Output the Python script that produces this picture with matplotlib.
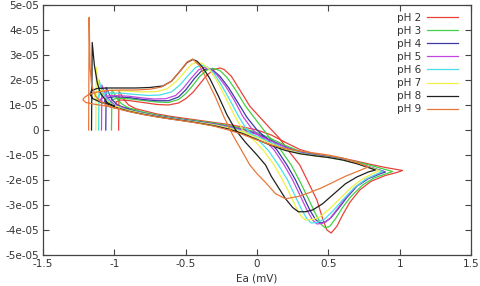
"""Cyclic voltammograms at several pH values (gnuplot-like look)."""

import matplotlib
matplotlib.use("Agg")
import matplotlib.pyplot as plt
import numpy as np

# (potential, current in 1e-5 units), forward + reverse sweep
ph2 = [(-0.97, 0.0), (-0.967, 1.55), (-0.955, 1.45), (-0.93, 1.2), (-0.9, 1.0), (-0.85, 0.85),
       (-0.8, 0.78), (-0.7, 0.64), (-0.6, 0.54), (-0.5, 0.46), (-0.4, 0.38), (-0.3, 0.3),
       (-0.2, 0.22), (-0.1, 0.12), (0.0, 0.0), (0.1, -0.2), (0.2, -0.5), (0.3, -0.78),
       (0.4, -0.95), (0.5, -1.05), (0.6, -1.13), (0.7, -1.25), (0.8, -1.38), (0.9, -1.5),
       (0.97, -1.57), (1.02, -1.62),
       (0.98, -1.7), (0.9, -1.82), (0.8, -2.05), (0.72, -2.4), (0.65, -2.9), (0.6, -3.4),
       (0.56, -3.85), (0.52, -4.12), (0.49, -4.0), (0.46, -3.55), (0.42, -2.8), (0.36, -2.1),
       (0.3, -1.4), (0.23, -0.9), (0.16, -0.35), (0.07, 0.2), (-0.05, 0.95), (-0.12, 1.6),
       (-0.18, 2.15), (-0.23, 2.42), (-0.26, 2.48), (-0.3, 2.42), (-0.35, 2.2), (-0.4, 1.85),
       (-0.45, 1.5), (-0.5, 1.25), (-0.55, 1.08), (-0.62, 1.0), (-0.7, 1.02), (-0.8, 1.1),
       (-0.9, 1.18), (-0.96, 1.2), (-0.99, 1.12), (-0.98, 1.0), (-0.93, 0.9), (-0.85, 0.8)]

ph3 = [(-1.02, 0.0), (-1.017, 1.6), (-1.005, 1.5), (-0.98, 1.25), (-0.95, 1.05), (-0.9, 0.88),
       (-0.8, 0.72), (-0.7, 0.6), (-0.6, 0.5), (-0.5, 0.42), (-0.4, 0.35), (-0.3, 0.27),
       (-0.2, 0.18), (-0.1, 0.06), (0.0, -0.1), (0.1, -0.35), (0.2, -0.62), (0.3, -0.85),
       (0.4, -0.98), (0.5, -1.06), (0.6, -1.15), (0.7, -1.28), (0.8, -1.42), (0.88, -1.55),
       (0.95, -1.66),
       (0.9, -1.76), (0.82, -1.92), (0.74, -2.2), (0.66, -2.65), (0.6, -3.1), (0.55, -3.55),
       (0.51, -3.85), (0.48, -3.92), (0.45, -3.78), (0.41, -3.35), (0.36, -2.75), (0.3, -2.05),
       (0.24, -1.4), (0.16, -0.75), (0.08, -0.25), (0.0, 0.35), (-0.08, 0.95), (-0.15, 1.6),
       (-0.21, 2.1), (-0.26, 2.38), (-0.31, 2.47), (-0.35, 2.4), (-0.4, 2.15), (-0.45, 1.78),
       (-0.5, 1.45), (-0.55, 1.22), (-0.62, 1.1), (-0.7, 1.12), (-0.8, 1.18), (-0.9, 1.25),
       (-0.98, 1.27), (-1.02, 1.2), (-1.03, 1.08), (-1.0, 0.98), (-0.94, 0.9), (-0.86, 0.8)]

ph4 = [(-1.06, 0.0), (-1.057, 1.7), (-1.045, 1.55), (-1.02, 1.25), (-0.98, 1.0), (-0.9, 0.82),
       (-0.8, 0.68), (-0.7, 0.57), (-0.6, 0.48), (-0.5, 0.4), (-0.4, 0.32), (-0.3, 0.24),
       (-0.2, 0.14), (-0.1, 0.02), (0.0, -0.15), (0.1, -0.42), (0.2, -0.68), (0.3, -0.88),
       (0.4, -1.0), (0.5, -1.08), (0.6, -1.18), (0.7, -1.32), (0.8, -1.5), (0.86, -1.6),
       (0.9, -1.68),
       (0.86, -1.76), (0.78, -1.95), (0.7, -2.25), (0.63, -2.7), (0.57, -3.15), (0.52, -3.5),
       (0.48, -3.68), (0.44, -3.72), (0.41, -3.58), (0.37, -3.2), (0.32, -2.6), (0.27, -2.0),
       (0.21, -1.4), (0.14, -0.8), (0.07, -0.35), (0.0, 0.0), (-0.07, 0.5), (-0.14, 1.15),
       (-0.2, 1.7), (-0.26, 2.15), (-0.31, 2.4), (-0.35, 2.45), (-0.39, 2.36), (-0.44, 2.05),
       (-0.5, 1.6), (-0.55, 1.32), (-0.62, 1.17), (-0.7, 1.17), (-0.8, 1.22), (-0.9, 1.3),
       (-1.0, 1.33), (-1.05, 1.28), (-1.07, 1.15), (-1.04, 1.02), (-0.98, 0.93), (-0.9, 0.84)]

ph5 = [(-1.09, 0.0), (-1.087, 1.8), (-1.075, 1.6), (-1.05, 1.3), (-1.0, 1.02), (-0.95, 0.9),
       (-0.9, 0.8), (-0.8, 0.67), (-0.7, 0.56), (-0.6, 0.47), (-0.5, 0.39), (-0.4, 0.31),
       (-0.3, 0.23), (-0.2, 0.13), (-0.1, 0.0), (0.0, -0.18), (0.1, -0.45), (0.2, -0.7),
       (0.3, -0.9), (0.4, -1.0), (0.5, -1.08), (0.6, -1.18), (0.7, -1.32), (0.8, -1.5),
       (0.85, -1.6), (0.89, -1.66),
       (0.85, -1.75), (0.77, -1.95), (0.69, -2.28), (0.62, -2.72), (0.56, -3.18), (0.51, -3.55),
       (0.46, -3.73), (0.42, -3.76), (0.39, -3.6), (0.35, -3.2), (0.3, -2.6), (0.25, -2.0),
       (0.19, -1.4), (0.12, -0.8), (0.05, -0.38), (-0.03, 0.0), (-0.1, 0.55), (-0.16, 1.2),
       (-0.22, 1.75), (-0.28, 2.2), (-0.33, 2.45), (-0.37, 2.5), (-0.41, 2.4), (-0.46, 2.08),
       (-0.52, 1.65), (-0.57, 1.38), (-0.64, 1.25), (-0.72, 1.24), (-0.8, 1.28), (-0.9, 1.35),
       (-1.0, 1.38), (-1.07, 1.35), (-1.1, 1.22), (-1.08, 1.08), (-1.02, 0.98), (-0.94, 0.88)]

ph6 = [(-1.11, 0.0), (-1.107, 2.0), (-1.095, 1.72), (-1.07, 1.38), (-1.03, 1.08), (-0.97, 0.9),
       (-0.9, 0.79), (-0.8, 0.66), (-0.7, 0.55), (-0.6, 0.46), (-0.5, 0.38), (-0.4, 0.3),
       (-0.3, 0.21), (-0.2, 0.1), (-0.1, -0.05), (0.0, -0.25), (0.1, -0.52), (0.2, -0.75),
       (0.3, -0.92), (0.4, -1.02), (0.5, -1.1), (0.6, -1.2), (0.7, -1.34), (0.8, -1.52),
       (0.88, -1.66),
       (0.84, -1.76), (0.76, -1.98), (0.68, -2.32), (0.6, -2.8), (0.53, -3.25), (0.47, -3.58),
       (0.42, -3.7), (0.38, -3.72), (0.35, -3.55), (0.31, -3.15), (0.26, -2.55), (0.21, -1.95),
       (0.15, -1.4), (0.08, -0.82), (0.01, -0.4), (-0.07, 0.0), (-0.13, 0.55), (-0.19, 1.2),
       (-0.25, 1.8), (-0.3, 2.25), (-0.35, 2.52), (-0.39, 2.6), (-0.43, 2.5), (-0.48, 2.2),
       (-0.54, 1.8), (-0.6, 1.52), (-0.68, 1.4), (-0.76, 1.38), (-0.85, 1.42), (-0.95, 1.47),
       (-1.05, 1.48), (-1.1, 1.42), (-1.12, 1.28), (-1.1, 1.12), (-1.04, 1.0), (-0.95, 0.9)]

ph7 = [(-1.13, 0.0), (-1.127, 2.5), (-1.115, 2.0), (-1.1, 1.6), (-1.07, 1.25), (-1.02, 1.0),
       (-0.95, 0.85), (-0.9, 0.78), (-0.8, 0.65), (-0.7, 0.54), (-0.6, 0.45), (-0.5, 0.37),
       (-0.4, 0.29), (-0.3, 0.2), (-0.2, 0.08), (-0.1, -0.08), (0.0, -0.3), (0.1, -0.56),
       (0.2, -0.78), (0.3, -0.94), (0.4, -1.03), (0.5, -1.1), (0.6, -1.2), (0.7, -1.34),
       (0.8, -1.52), (0.86, -1.63),
       (0.82, -1.72), (0.74, -1.95), (0.66, -2.3), (0.58, -2.75), (0.5, -3.2), (0.44, -3.48),
       (0.39, -3.58), (0.34, -3.6), (0.31, -3.45), (0.27, -3.05), (0.22, -2.45), (0.17, -1.9),
       (0.12, -1.4), (0.05, -0.85), (-0.02, -0.42), (-0.1, 0.0), (-0.16, 0.6), (-0.22, 1.3),
       (-0.28, 1.95), (-0.33, 2.4), (-0.38, 2.65), (-0.42, 2.72), (-0.46, 2.62), (-0.51, 2.3),
       (-0.57, 1.92), (-0.63, 1.65), (-0.7, 1.54), (-0.8, 1.52), (-0.9, 1.55), (-1.0, 1.58),
       (-1.08, 1.58), (-1.13, 1.5), (-1.14, 1.35), (-1.12, 1.18), (-1.06, 1.05), (-0.97, 0.92)]

ph8 = [(-1.16, 0.0), (-1.155, 3.5), (-1.14, 2.6), (-1.12, 1.9), (-1.1, 1.5), (-1.05, 1.1),
       (-1.0, 0.92), (-0.9, 0.75), (-0.8, 0.63), (-0.7, 0.53), (-0.6, 0.44), (-0.5, 0.36),
       (-0.4, 0.27), (-0.3, 0.17), (-0.2, 0.04), (-0.1, -0.14), (0.0, -0.38), (0.1, -0.62),
       (0.2, -0.82), (0.3, -0.95), (0.4, -1.03), (0.5, -1.1), (0.6, -1.2), (0.7, -1.35),
       (0.78, -1.5), (0.83, -1.6),
       (0.78, -1.68), (0.7, -1.88), (0.62, -2.15), (0.54, -2.55), (0.46, -2.95), (0.39, -3.2),
       (0.34, -3.27), (0.29, -3.27), (0.25, -3.1), (0.2, -2.75), (0.15, -2.3), (0.1, -1.85),
       (0.06, -1.4), (0.0, -1.0), (-0.08, -0.5), (-0.15, 0.0), (-0.21, 0.6), (-0.27, 1.35),
       (-0.33, 2.05), (-0.38, 2.5), (-0.42, 2.75), (-0.45, 2.82), (-0.49, 2.7), (-0.54, 2.35),
       (-0.6, 1.95), (-0.66, 1.76), (-0.75, 1.7), (-0.85, 1.68), (-0.95, 1.68), (-1.05, 1.68),
       (-1.12, 1.66), (-1.16, 1.58), (-1.17, 1.42), (-1.15, 1.25), (-1.09, 1.1), (-1.0, 0.97)]

ph9 = [(-1.18, 0.0), (-1.177, 4.5), (-1.17, 2.5), (-1.16, 1.8), (-1.13, 1.35), (-1.1, 1.15),
       (-1.05, 0.98), (-1.0, 0.88), (-0.9, 0.74), (-0.8, 0.62), (-0.7, 0.52), (-0.6, 0.43),
       (-0.5, 0.35), (-0.4, 0.26), (-0.3, 0.15), (-0.2, 0.0), (-0.1, -0.18), (0.0, -0.4),
       (0.1, -0.6), (0.2, -0.75), (0.3, -0.84), (0.4, -0.92), (0.5, -1.0), (0.6, -1.12),
       (0.7, -1.3), (0.78, -1.48),
       (0.72, -1.62), (0.62, -1.85), (0.53, -2.1), (0.45, -2.32), (0.37, -2.5), (0.29, -2.66),
       (0.2, -2.75), (0.13, -2.55), (0.06, -2.1), (0.0, -1.75), (-0.05, -1.4), (-0.11, -0.8),
       (-0.17, -0.2), (-0.23, 0.5), (-0.29, 1.3), (-0.35, 2.0), (-0.4, 2.55), (-0.45, 2.84),
       (-0.49, 2.72), (-0.54, 2.35), (-0.6, 1.95), (-0.67, 1.72), (-0.75, 1.63), (-0.85, 1.6),
       (-0.95, 1.6), (-1.05, 1.58), (-1.12, 1.52), (-1.18, 1.42), (-1.21, 1.3), (-1.22, 1.2),
       (-1.2, 1.1), (-1.14, 1.03), (-1.05, 0.95), (-0.95, 0.82)]

labels = ["pH 2", "pH 3", "pH 4", "pH 5", "pH 6", "pH 7", "pH 8", "pH 9"]
curves = [ph2, ph3, ph4, ph5, ph6, ph7, ph8, ph9]
colors = ["#e8423a", "#44d044", "#3a3aa8", "#c048e0", "#48e0e8", "#f0f048", "#202020", "#e8783a"]

xticks = [-1.5, -1, -0.5, 0, 0.5, 1, 1.5]
xticklabels = ["-1.5", "-1", "-0.5", "0", "0.5", "1", "1.5"]
yticks = [5e-5, 4e-5, 3e-5, 2e-5, 1e-5, 0, -1e-5, -2e-5, -3e-5, -4e-5, -5e-5]
yticklabels = ["5e-05", "4e-05", "3e-05", "2e-05", "1e-05", "0",
               "-1e-05", "-2e-05", "-3e-05", "-4e-05", "-5e-05"]

plt.rcParams["font.family"] = "DejaVu Sans"
fig = plt.figure(figsize=(4.81, 2.86), dpi=100)
ax = fig.add_axes([0.0894, 0.1084, 0.8898, 0.8742])

for pts, lab, col in zip(curves, labels, colors):
    arr = np.array(pts)
    ax.plot(arr[:, 0], arr[:, 1] * 1e-5, color=col, lw=0.9, label=lab)

ax.set_xlim(-1.5, 1.5)
ax.set_ylim(-5e-5, 5e-5)
ax.set_xticks(xticks)
ax.set_xticklabels(xticklabels)
ax.set_yticks(yticks)
ax.set_yticklabels(yticklabels)
ax.tick_params(direction="in", length=4, width=0.8, colors="#444444",
               labelcolor="#333333", labelsize=7.5, top=True, right=True, pad=3)
for sp in ax.spines.values():
    sp.set_color("#444444")
    sp.set_linewidth(0.9)

ax.set_xlabel("Ea (mV)", fontsize=7.5, color="#333333", labelpad=3)

leg = ax.legend(loc="upper right", bbox_to_anchor=(0.988, 1.003), markerfirst=False,
                frameon=False, fontsize=7.5, handlelength=2.9, labelspacing=0.3,
                borderaxespad=0.4, handletextpad=0.6)
for t in leg.get_texts():
    t.set_color("#333333")

fig.savefig("out.png", dpi=100)
